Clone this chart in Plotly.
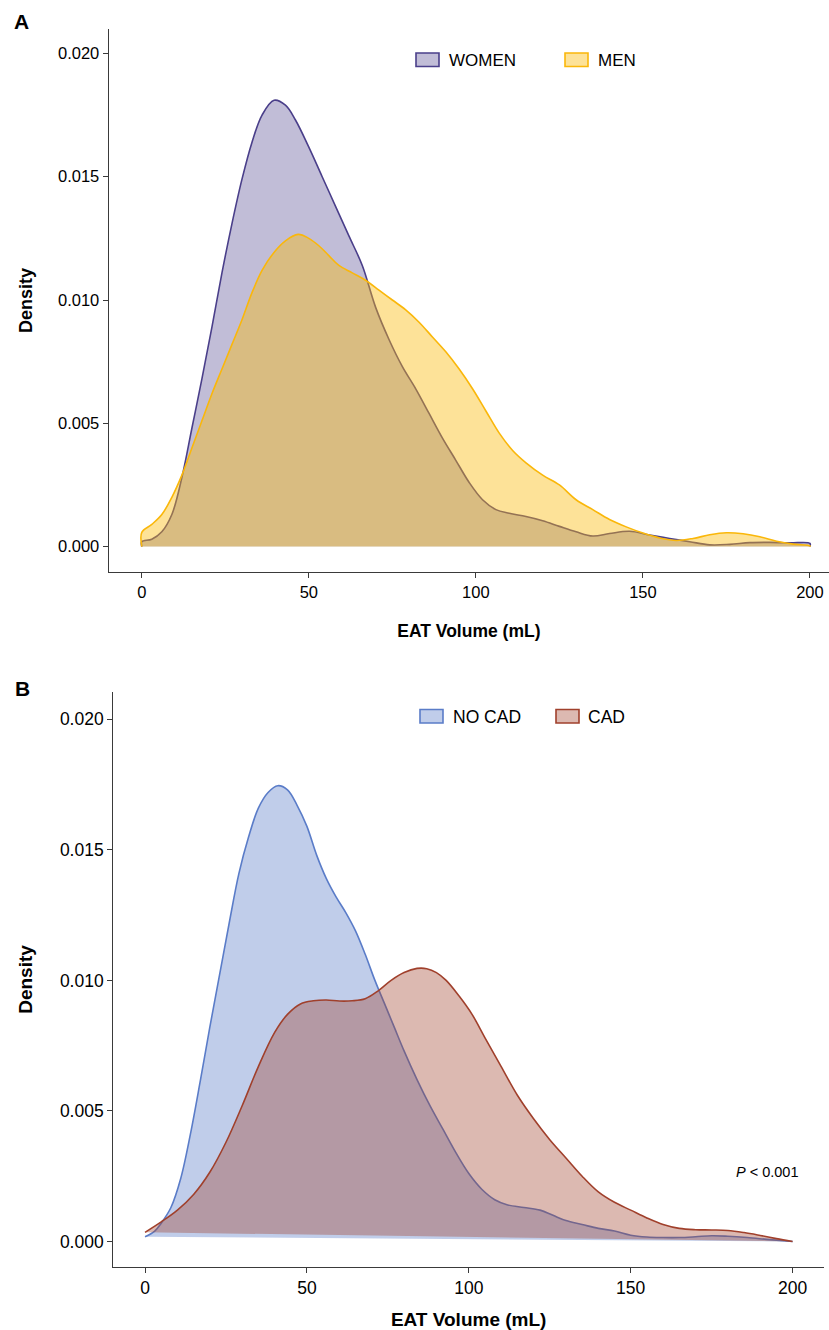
import plotly.graph_objects as go

# ---------------- data ----------------
x_women = [0, 3, 6, 9, 12, 15, 18, 21, 24, 27, 30, 33, 36, 39.6, 43, 46, 50, 54, 58, 62, 66,
           70, 74, 78, 82, 86, 90, 94, 98, 102, 106, 110, 115, 120, 125, 130, 135, 140, 146,
           152, 158, 164, 170, 176, 182, 188, 194, 200]
y_women = [0.0002, 0.0003, 0.0006, 0.0013, 0.0028, 0.0048, 0.0068, 0.0089, 0.0111, 0.0131,
           0.0149, 0.0164, 0.0175, 0.0181, 0.0179, 0.0173, 0.0162, 0.0150, 0.0138, 0.0126,
           0.0114, 0.0097, 0.0084, 0.0073, 0.0064, 0.0054, 0.0044, 0.0035, 0.0026, 0.0019,
           0.0015, 0.00135, 0.00122, 0.00105, 0.00082, 0.0006, 0.00043, 0.00053, 0.00062,
           0.00047, 0.00033, 0.0002, 0.00007, 0.00009, 0.00016, 0.00017, 0.00015, 0.00013]

x_men = [0, 3, 6, 9, 12, 15, 18, 21, 24, 27, 30, 33, 36, 39.4, 43, 46.8, 50, 53, 56, 59, 63,
         67, 71, 75, 79, 83, 87, 91, 95, 99, 103, 107, 111, 115, 120, 125, 130, 135, 140, 145,
         150, 155, 160, 165, 170, 175, 180, 185, 190, 195, 200]
y_men = [0.00058, 0.0009, 0.0013, 0.0020, 0.0029, 0.0040, 0.0051, 0.0062, 0.0072, 0.0082,
         0.0092, 0.0103, 0.0112, 0.0119, 0.0124, 0.01266, 0.0125, 0.0122, 0.0118, 0.0114,
         0.0111, 0.0108, 0.0104, 0.0100, 0.0096, 0.0091, 0.0085, 0.0079, 0.0072, 0.0064,
         0.0055, 0.0046, 0.0039, 0.0034, 0.0029, 0.0025, 0.0019, 0.0015, 0.0011, 0.0008,
         0.00055, 0.00035, 0.00025, 0.00033, 0.00048, 0.00056, 0.00052, 0.0004, 0.00022,
         0.0001, 0.00003]

x_nocad = [0, 3, 5, 8, 11, 14, 17, 20, 23, 26, 29, 32, 35, 38, 41, 44, 47, 50, 53, 56, 59,
           62, 65, 68, 71, 74, 77, 80, 84, 88, 92, 96, 100, 104, 108, 112, 117, 122, 126, 130,
           135, 140, 145, 150, 155, 160, 165, 170, 175, 180, 186, 193, 200]
y_nocad = [0.00018, 0.0004, 0.0007, 0.0013, 0.0024, 0.0041, 0.0061, 0.0082, 0.0102, 0.0122,
           0.0141, 0.0155, 0.0166, 0.0172, 0.01746, 0.0173, 0.0167, 0.0159, 0.0148, 0.0139,
           0.0132, 0.0126, 0.0119, 0.0110, 0.0100, 0.0091, 0.0082, 0.0073, 0.0062, 0.0052,
           0.0043, 0.0034, 0.0026, 0.0020, 0.0016, 0.0014, 0.0013, 0.0012, 0.0010, 0.0008,
           0.00065, 0.0005, 0.0004, 0.00024, 0.00017, 0.00015, 0.00015, 0.00018, 0.00022,
           0.0002, 0.00015, 0.00007, 0.0]

x_cad = [0, 5, 10, 15, 20, 25, 30, 35, 40, 44, 48, 52, 56, 60, 64, 68, 72, 76, 80, 84, 87,
         90, 93, 97, 101, 105, 110, 115, 120, 125, 130, 135, 140, 145, 150, 155, 160, 165,
         170, 175, 180, 185, 190, 195, 200]
y_cad = [0.00035, 0.00075, 0.0012, 0.0018, 0.00265, 0.0038, 0.0052, 0.0067, 0.0080, 0.0087,
         0.0091, 0.00922, 0.00925, 0.00921, 0.00922, 0.0093, 0.0096, 0.0100, 0.0103, 0.01046,
         0.01045, 0.0103, 0.0100, 0.0094, 0.0087, 0.0078, 0.0067, 0.0056, 0.0047, 0.0039,
         0.0032, 0.0025, 0.0019, 0.0015, 0.0012, 0.0009, 0.00065, 0.0005, 0.00045, 0.00044,
         0.00042, 0.00034, 0.00023, 0.00011, 0.0]

x_ticks = [0, 50, 100, 150, 200]
y_ticks = [0.0, 0.005, 0.010, 0.015, 0.020]
labels_a = ["WOMEN", "MEN"]
labels_b = ["NO CAD", "CAD"]
p_text = "<i>P</i> < 0.001"

# ---------------- styling ----------------
W, H = 829, 1330
FONT = "Liberation Sans, Arial, Helvetica, sans-serif"
C_WOMEN_LINE, C_WOMEN_FILL = "rgb(74,63,138)", "rgba(74,63,138,0.345)"
C_MEN_LINE, C_MEN_FILL = "rgb(250,183,10)", "rgba(250,185,10,0.42)"
C_NOCAD_LINE, C_NOCAD_FILL = "rgb(90,124,200)", "rgba(90,124,200,0.38)"
C_CAD_LINE, C_CAD_FILL = "rgb(160,64,44)", "rgba(160,64,44,0.37)"
SMOOTH = 1.0


def fx(px):
    return px / W


def fy(py):
    return 1 - py / H


def closed(xs, ys):
    # density polygon closed down to zero (as in panel A)
    return [xs[0]] + list(xs) + [xs[-1]], [0] + list(ys) + [0]


fig = go.Figure()

xa, ya = closed(x_women, y_women)
fig.add_trace(go.Scatter(x=xa, y=ya, mode="lines", fill="toself", fillcolor=C_WOMEN_FILL,
                         line=dict(color=C_WOMEN_LINE, width=1.6, shape="spline", smoothing=SMOOTH),
                         name=labels_a[0], xaxis="x", yaxis="y", showlegend=False))
xa, ya = closed(x_men, y_men)
fig.add_trace(go.Scatter(x=xa, y=ya, mode="lines", fill="toself", fillcolor=C_MEN_FILL,
                         line=dict(color=C_MEN_LINE, width=1.6, shape="spline", smoothing=SMOOTH),
                         name=labels_a[1], xaxis="x", yaxis="y", showlegend=False))

fig.add_trace(go.Scatter(x=x_nocad, y=y_nocad, mode="lines", fill="toself", fillcolor=C_NOCAD_FILL,
                         line=dict(color=C_NOCAD_LINE, width=1.6, shape="spline", smoothing=SMOOTH),
                         name=labels_b[0], xaxis="x2", yaxis="y2", showlegend=False))
fig.add_trace(go.Scatter(x=x_cad, y=y_cad, mode="lines", fill="toself", fillcolor=C_CAD_FILL,
                         line=dict(color=C_CAD_LINE, width=1.6, shape="spline", smoothing=SMOOTH),
                         name=labels_b[1], xaxis="x2", yaxis="y2", showlegend=False))

axis_common = dict(showline=True, linecolor="#3a3a3a", linewidth=1.2, ticks="outside",
                   ticklen=5, tickwidth=1.1, tickcolor="#3a3a3a", showgrid=False,
                   zeroline=False, fixedrange=True, automargin=False)

fig.update_layout(
    width=W, height=H, margin=dict(l=0, r=0, t=0, b=0, autoexpand=False),
    paper_bgcolor="white", plot_bgcolor="white",
    font=dict(family=FONT, color="black"),
    showlegend=False,
    xaxis=dict(domain=[fx(108.7), 1.0], range=[-9.9, 205.7], anchor="y", tickvals=x_ticks,
               tickfont=dict(size=16.5), title=dict(text="<b>EAT Volume (mL)</b>",
               font=dict(size=17.5), standoff=24), **axis_common),
    yaxis=dict(domain=[fy(572), fy(29)], range=[-0.00103, 0.02099], anchor="x",
               tickvals=y_ticks, tickformat=".3f", tickfont=dict(size=16.5),
               title=dict(text="<b>Density</b>", font=dict(size=18), standoff=20), **axis_common),
    xaxis2=dict(domain=[fx(113.3), fx(824)], range=[-9.8, 209.7], anchor="y2", tickvals=x_ticks,
                tickfont=dict(size=17.5), title=dict(text="<b>EAT Volume (mL)</b>",
                font=dict(size=19), standoff=26), **axis_common),
    yaxis2=dict(domain=[fy(1267.3), fy(691.7)], range=[-0.00099, 0.02106], anchor="x2",
                tickvals=y_ticks, tickformat=".3f", tickfont=dict(size=17.5),
                title=dict(text="<b>Density</b>", font=dict(size=19), standoff=22), **axis_common),
)

# ----- legends (keys drawn as boxes in paper space) -----
shapes = []
annotations = []
legend_specs = [
    (labels_a[0], C_WOMEN_FILL, C_WOMEN_LINE, 416, 53, 447, 17),
    (labels_a[1], C_MEN_FILL, C_MEN_LINE, 565, 53, 596, 17),
    (labels_b[0], C_NOCAD_FILL, C_NOCAD_LINE, 420, 709.5, 451, 17.5),
    (labels_b[1], C_CAD_FILL, C_CAD_LINE, 556, 709.5, 586, 17.5),
]
for text, fcol, lcol, bx, by, tx, fs in legend_specs:
    shapes.append(dict(type="rect", xref="paper", yref="paper", x0=fx(bx), x1=fx(bx + 23),
                       y0=fy(by + 13.5), y1=fy(by), fillcolor=fcol,
                       line=dict(color=lcol, width=1.6)))
    annotations.append(dict(text=text, xref="paper", yref="paper", x=fx(tx), y=fy(by + 7),
                            xanchor="left", yanchor="middle", showarrow=False,
                            font=dict(size=fs, color="black")))

annotations.append(dict(text="<b>A</b>", xref="paper", yref="paper", x=fx(21), y=fy(21),
                        xanchor="center", yanchor="middle", showarrow=False,
                        font=dict(size=21, color="black")))
annotations.append(dict(text="<b>B</b>", xref="paper", yref="paper", x=fx(22), y=fy(688),
                        xanchor="center", yanchor="middle", showarrow=False,
                        font=dict(size=21, color="black")))
annotations.append(dict(text=p_text, xref="paper", yref="paper", x=fx(800), y=fy(1172),
                        xanchor="right", yanchor="middle", showarrow=False,
                        font=dict(size=14.5, color="black")))

fig.update_layout(shapes=shapes, annotations=annotations)

fig.write_html("out.html", config={"displayModeBar": False},
               post_script="document.body.style.margin='0';document.body.style.padding='0';")
